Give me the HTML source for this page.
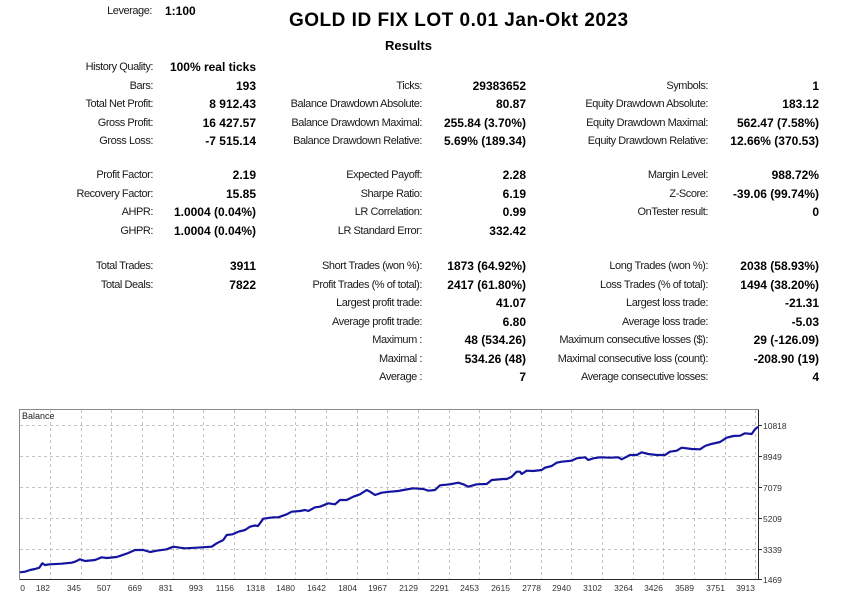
<!DOCTYPE html>
<html>
<head>
<meta charset="utf-8">
<style>
  html,body{margin:0;padding:0;background:#fff;}
  body{width:855px;height:600px;position:relative;overflow:hidden;font-family:"Liberation Sans","DejaVu Sans",sans-serif;}
  .l{position:absolute;font-size:11px;line-height:14px;color:#1a1a1a;letter-spacing:-0.45px;white-space:nowrap;text-align:right;}
  .v{position:absolute;font-size:12px;line-height:14px;color:#000;font-weight:bold;white-space:nowrap;text-align:right;}
  .c1{right:702px;} .c2{right:599px;} .c3{right:433px;} .c4{right:329px;} .c5{right:147px;} .c6{right:36px;}
  svg{position:absolute;left:0;top:0;}
</style>
</head>
<body>
<div class="l" style="right:703px;top:4px;">Leverage:</div>
<div class="v" style="left:165px;top:4px;text-align:left;">1:100</div>
<div style="position:absolute;left:289px;top:10px;font-size:19px;line-height:22px;font-weight:bold;letter-spacing:0.5px;white-space:nowrap;color:#000;">GOLD ID FIX LOT 0.01 Jan-Okt 2023</div>
<div style="position:absolute;left:385px;top:38px;font-size:13px;line-height:16px;font-weight:bold;white-space:nowrap;color:#000;">Results</div>

<div class="l c1" style="top:60px;">History Quality:</div><div class="v c2" style="top:60px;">100% real ticks</div>

<div class="l c1" style="top:78.5px;">Bars:</div><div class="v c2" style="top:78.5px;">193</div>
<div class="l c3" style="top:78.5px;">Ticks:</div><div class="v c4" style="top:78.5px;">29383652</div>
<div class="l c5" style="top:78.5px;">Symbols:</div><div class="v c6" style="top:78.5px;">1</div>

<div class="l c1" style="top:97px;">Total Net Profit:</div><div class="v c2" style="top:97px;">8 912.43</div>
<div class="l c3" style="top:97px;">Balance Drawdown Absolute:</div><div class="v c4" style="top:97px;">80.87</div>
<div class="l c5" style="top:97px;">Equity Drawdown Absolute:</div><div class="v c6" style="top:97px;">183.12</div>

<div class="l c1" style="top:115.5px;">Gross Profit:</div><div class="v c2" style="top:115.5px;">16 427.57</div>
<div class="l c3" style="top:115.5px;">Balance Drawdown Maximal:</div><div class="v c4" style="top:115.5px;">255.84 (3.70%)</div>
<div class="l c5" style="top:115.5px;">Equity Drawdown Maximal:</div><div class="v c6" style="top:115.5px;">562.47 (7.58%)</div>

<div class="l c1" style="top:134px;">Gross Loss:</div><div class="v c2" style="top:134px;">-7 515.14</div>
<div class="l c3" style="top:134px;">Balance Drawdown Relative:</div><div class="v c4" style="top:134px;">5.69% (189.34)</div>
<div class="l c5" style="top:134px;">Equity Drawdown Relative:</div><div class="v c6" style="top:134px;">12.66% (370.53)</div>

<div class="l c1" style="top:168px;">Profit Factor:</div><div class="v c2" style="top:168px;">2.19</div>
<div class="l c3" style="top:168px;">Expected Payoff:</div><div class="v c4" style="top:168px;">2.28</div>
<div class="l c5" style="top:168px;">Margin Level:</div><div class="v c6" style="top:168px;">988.72%</div>

<div class="l c1" style="top:186.5px;">Recovery Factor:</div><div class="v c2" style="top:186.5px;">15.85</div>
<div class="l c3" style="top:186.5px;">Sharpe Ratio:</div><div class="v c4" style="top:186.5px;">6.19</div>
<div class="l c5" style="top:186.5px;">Z-Score:</div><div class="v c6" style="top:186.5px;">-39.06 (99.74%)</div>

<div class="l c1" style="top:205px;">AHPR:</div><div class="v c2" style="top:205px;">1.0004 (0.04%)</div>
<div class="l c3" style="top:205px;">LR Correlation:</div><div class="v c4" style="top:205px;">0.99</div>
<div class="l c5" style="top:205px;">OnTester result:</div><div class="v c6" style="top:205px;">0</div>

<div class="l c1" style="top:224px;">GHPR:</div><div class="v c2" style="top:224px;">1.0004 (0.04%)</div>
<div class="l c3" style="top:224px;">LR Standard Error:</div><div class="v c4" style="top:224px;">332.42</div>

<div class="l c1" style="top:259px;">Total Trades:</div><div class="v c2" style="top:259px;">3911</div>
<div class="l c3" style="top:259px;">Short Trades (won %):</div><div class="v c4" style="top:259px;">1873 (64.92%)</div>
<div class="l c5" style="top:259px;">Long Trades (won %):</div><div class="v c6" style="top:259px;">2038 (58.93%)</div>

<div class="l c1" style="top:277.5px;">Total Deals:</div><div class="v c2" style="top:277.5px;">7822</div>
<div class="l c3" style="top:277.5px;">Profit Trades (% of total):</div><div class="v c4" style="top:277.5px;">2417 (61.80%)</div>
<div class="l c5" style="top:277.5px;">Loss Trades (% of total):</div><div class="v c6" style="top:277.5px;">1494 (38.20%)</div>

<div class="l c3" style="top:296px;">Largest profit trade:</div><div class="v c4" style="top:296px;">41.07</div>
<div class="l c5" style="top:296px;">Largest loss trade:</div><div class="v c6" style="top:296px;">-21.31</div>

<div class="l c3" style="top:314.5px;">Average profit trade:</div><div class="v c4" style="top:314.5px;">6.80</div>
<div class="l c5" style="top:314.5px;">Average loss trade:</div><div class="v c6" style="top:314.5px;">-5.03</div>

<div class="l c3" style="top:333px;">Maximum :</div><div class="v c4" style="top:333px;">48 (534.26)</div>
<div class="l c5" style="top:333px;">Maximum consecutive losses ($):</div><div class="v c6" style="top:333px;">29 (-126.09)</div>

<div class="l c3" style="top:351.5px;">Maximal :</div><div class="v c4" style="top:351.5px;">534.26 (48)</div>
<div class="l c5" style="top:351.5px;">Maximal consecutive loss (count):</div><div class="v c6" style="top:351.5px;">-208.90 (19)</div>

<div class="l c3" style="top:370px;">Average :</div><div class="v c4" style="top:370px;">7</div>
<div class="l c5" style="top:370px;">Average consecutive losses:</div><div class="v c6" style="top:370px;">4</div>

<svg width="855" height="600" viewBox="0 0 855 600" xmlns="http://www.w3.org/2000/svg">
  <rect x="19.5" y="409.5" width="739" height="170" fill="#fff"/>
  <g stroke="#c4c4c4" stroke-width="1" stroke-dasharray="3,3" fill="none">
    <line x1="20" y1="425.5" x2="758" y2="425.5"/>
    <line x1="20" y1="456.5" x2="758" y2="456.5"/>
    <line x1="20" y1="487.5" x2="758" y2="487.5"/>
    <line x1="20" y1="518.5" x2="758" y2="518.5"/>
    <line x1="20" y1="549.5" x2="758" y2="549.5"/>
    <line x1="50.5" y1="410" x2="50.5" y2="579"/>
    <line x1="81.5" y1="410" x2="81.5" y2="579"/>
    <line x1="111.5" y1="410" x2="111.5" y2="579"/>
    <line x1="142.5" y1="410" x2="142.5" y2="579"/>
    <line x1="173.5" y1="410" x2="173.5" y2="579"/>
    <line x1="203.5" y1="410" x2="203.5" y2="579"/>
    <line x1="234.5" y1="410" x2="234.5" y2="579"/>
    <line x1="265.5" y1="410" x2="265.5" y2="579"/>
    <line x1="295.5" y1="410" x2="295.5" y2="579"/>
    <line x1="326.5" y1="410" x2="326.5" y2="579"/>
    <line x1="357.5" y1="410" x2="357.5" y2="579"/>
    <line x1="387.5" y1="410" x2="387.5" y2="579"/>
    <line x1="418.5" y1="410" x2="418.5" y2="579"/>
    <line x1="449.5" y1="410" x2="449.5" y2="579"/>
    <line x1="479.5" y1="410" x2="479.5" y2="579"/>
    <line x1="510.5" y1="410" x2="510.5" y2="579"/>
    <line x1="541.5" y1="410" x2="541.5" y2="579"/>
    <line x1="571.5" y1="410" x2="571.5" y2="579"/>
    <line x1="602.5" y1="410" x2="602.5" y2="579"/>
    <line x1="633.5" y1="410" x2="633.5" y2="579"/>
    <line x1="663.5" y1="410" x2="663.5" y2="579"/>
    <line x1="694.5" y1="410" x2="694.5" y2="579"/>
    <line x1="725.5" y1="410" x2="725.5" y2="579"/>
    <line x1="755.5" y1="410" x2="755.5" y2="579"/>
  </g>
  <path d="M19.5 579.5 V409.5 H758.5" stroke="#8a8a8a" stroke-width="1" fill="none"/>
  <path d="M758.5 409.5 V579.5 H19.5" stroke="#2a2a2a" stroke-width="1" fill="none"/>
  <g stroke="#2a2a2a" stroke-width="1">
    <line x1="758" y1="425.5" x2="762" y2="425.5"/>
    <line x1="758" y1="456.5" x2="762" y2="456.5"/>
    <line x1="758" y1="487.5" x2="762" y2="487.5"/>
    <line x1="758" y1="518.5" x2="762" y2="518.5"/>
    <line x1="758" y1="549.5" x2="762" y2="549.5"/>
    <line x1="758" y1="579.5" x2="762" y2="579.5"/>
  </g>
  <text x="22" y="419" font-family="Liberation Sans, DejaVu Sans, sans-serif" font-size="9" fill="#222">Balance</text>
  <polyline fill="none" stroke="#1414a0" stroke-width="2.2" stroke-linejoin="round" points="20,572.3 25,571.7 30,570 35,569 39.3,567.7 42.3,563.3 45,565 50,564.3 61.7,563.7 71.7,562.7 75,561.7 80,559.3 85,561 95,560 101.7,557.3 106.7,558 116.7,557 121.7,555.3 128.3,553 135,550 143.3,550 150,552 156.7,550.7 166.7,549.3 173.3,546.7 180,547.7 185,548.3 196.7,547.7 211.7,546.7 216.7,543.3 223.3,540 226.7,535 232.7,534.3 238.3,531.7 245,530 250,526.7 255,525.5 258,526 263.3,518.7 273.3,517.3 278.3,517.3 286.7,514.3 291.7,511.7 300,511 305,510 308.3,511 315,507.3 320,506.7 328.3,503.3 335,504.3 340,500 346.7,500 353.3,496.7 360,494.3 366.7,490 370,491.7 375,495 381.7,492.7 390,491.7 398.3,491 403.3,490 413.3,488.3 423.3,489 428.3,490.7 435,490 440,485.3 450,484.3 458.3,482.7 463.3,484.3 468.3,486.7 476.7,484.3 486.7,484 491.7,480 503.3,479 506.7,479 511.7,476.7 516.7,471.7 520,471.7 521.7,474 526.7,470.7 533.3,471 541.7,470 545,467.7 551.7,466 556.7,462.7 561.7,461.7 571.7,460.7 576.7,458.3 585,457.3 588.3,460 593.3,458.3 600,457.3 610,457.7 618.3,457.3 621.7,459.3 630,455 636.7,455 641.7,452.3 648.3,454 656.7,455 665,455 670,451.7 676.7,450.7 681.7,447.7 691.7,449 700,449.3 705,446 710,444.3 720,442 726.7,437.7 733.3,436 740,435.7 745,433.3 751.7,434 755,429.3 758,426.7"/>
  <g font-family="Liberation Sans, DejaVu Sans, sans-serif" font-size="8.5" fill="#333">
    <text x="763" y="429">10818</text>
    <text x="763" y="460">8949</text>
    <text x="763" y="491">7079</text>
    <text x="763" y="522">5209</text>
    <text x="763" y="553">3339</text>
    <text x="763" y="583">1469</text>
  </g>
  <g font-family="Liberation Sans, DejaVu Sans, sans-serif" font-size="8.5" fill="#333" text-anchor="end">
    <text x="25" y="591">0</text>
    <text x="50" y="591">182</text>
    <text x="81" y="591">345</text>
    <text x="111" y="591">507</text>
    <text x="142" y="591">669</text>
    <text x="173" y="591">831</text>
    <text x="203" y="591">993</text>
    <text x="234" y="591">1156</text>
    <text x="265" y="591">1318</text>
    <text x="295" y="591">1480</text>
    <text x="326" y="591">1642</text>
    <text x="357" y="591">1804</text>
    <text x="387" y="591">1967</text>
    <text x="418" y="591">2129</text>
    <text x="449" y="591">2291</text>
    <text x="479" y="591">2453</text>
    <text x="510" y="591">2615</text>
    <text x="541" y="591">2778</text>
    <text x="571" y="591">2940</text>
    <text x="602" y="591">3102</text>
    <text x="633" y="591">3264</text>
    <text x="663" y="591">3426</text>
    <text x="694" y="591">3589</text>
    <text x="725" y="591">3751</text>
    <text x="755" y="591">3913</text>
  </g>
</svg>
</body>
</html>
